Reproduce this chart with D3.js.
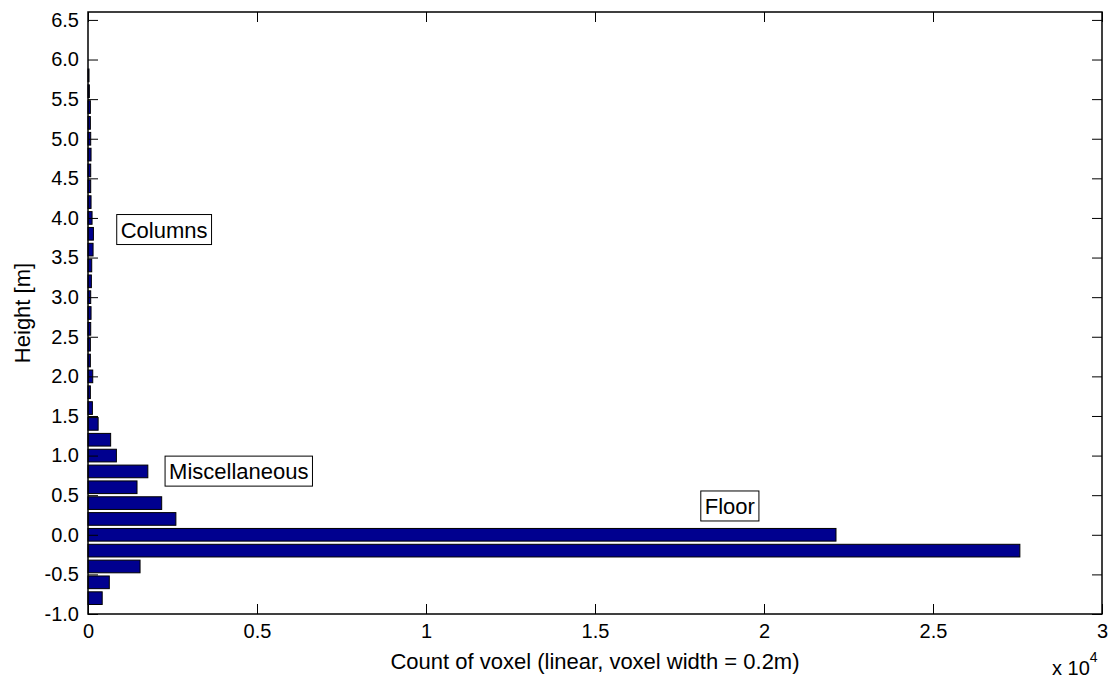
<!DOCTYPE html>
<html>
<head>
<meta charset="utf-8">
<script src="https://cdn.jsdelivr.net/npm/d3@7"></script>
<style>
  html, body { margin: 0; padding: 0; background: #fff; }
  svg { display: block; font-family: Arial, "Liberation Sans", sans-serif; }
</style>
</head>
<body>
<svg id="chart" width="1114" height="682"></svg>
<script>
// Height bins (bin centres, metres) and voxel counts per bin
const binCenters = [-0.8, -0.6, -0.4, -0.2, 0.0, 0.2, 0.4, 0.6, 0.8, 1.0,
                    1.2, 1.4, 1.6, 1.8, 2.0, 2.2, 2.4, 2.6, 2.8, 3.0,
                    3.2, 3.4, 3.6, 3.8, 4.0, 4.2, 4.4, 4.6, 4.8, 5.0,
                    5.2, 5.4, 5.6, 5.8];
const voxelCounts = [420, 630, 1540, 27570, 22130, 2600, 2180, 1450, 1770, 840,
                     670, 300, 130, 70, 140, 70, 70, 80, 90, 80,
                     100, 110, 150, 160, 120, 90, 80, 80, 90, 80,
                     70, 70, 40, 30];

// Axis ticks
const yTicks = [-1.0, -0.5, 0.0, 0.5, 1.0, 1.5, 2.0, 2.5, 3.0, 3.5, 4.0, 4.5, 5.0, 5.5, 6.0, 6.5];
const yTickLabels = ["-1.0", "-0.5", "0.0", "0.5", "1.0", "1.5", "2.0", "2.5",
                     "3.0", "3.5", "4.0", "4.5", "5.0", "5.5", "6.0", "6.5"];
const xTicks = [0, 5000, 10000, 15000, 20000, 25000, 30000];
const xTickLabels = ["0", "0.5", "1", "1.5", "2", "2.5", "3"];

// Annotations placed in data space (count, height)
const annotations = [
  { text: "Columns", x: 850, y: 3.85 },
  { text: "Miscellaneous", x: 2280, y: 0.80 },
  { text: "Floor", x: 18130, y: 0.36 }
];

const binWidth = 0.2;
const barFraction = 0.8;

const svg = d3.select("#chart");
const margin = { left: 88, right: 12, top: 12, bottom: 68 };
const W = 1114, H = 682;
const x0 = margin.left, x1 = W - margin.right;
const y0 = H - margin.bottom, y1 = margin.top;

const x = d3.scaleLinear().domain([0, 30000]).range([x0, x1]);
const y = d3.scaleLinear().domain([-1.0, 6.6]).range([y0, y1]);

// Bars
const barH = Math.abs(y(0) - y(binWidth * barFraction));
svg.append("g")
  .selectAll("rect")
  .data(binCenters.map((c, i) => ({ c, v: voxelCounts[i] })))
  .join("rect")
  .attr("x", x(0))
  .attr("y", d => y(d.c) - barH / 2)
  .attr("width", d => x(d.v) - x(0))
  .attr("height", barH)
  .attr("fill", "#00008f")
  .attr("stroke", "#000")
  .attr("stroke-width", 1);

// Axes (inward ticks on all four sides, MATLAB style)
const tickLen = 10;
const fontTick = "20px";
const fontLabel = "22px";

const gy = svg.append("g").attr("transform", `translate(${x0},0)`)
  .call(d3.axisLeft(y).tickValues(yTicks).tickFormat((d, i) => yTickLabels[i])
        .tickSizeInner(-tickLen).tickSizeOuter(0).tickPadding(9));
const gyr = svg.append("g").attr("transform", `translate(${x1},0)`)
  .call(d3.axisRight(y).tickValues(yTicks).tickFormat("")
        .tickSizeInner(-tickLen).tickSizeOuter(0));
const gx = svg.append("g").attr("transform", `translate(0,${y0})`)
  .call(d3.axisBottom(x).tickValues(xTicks).tickFormat((d, i) => xTickLabels[i])
        .tickSizeInner(-tickLen).tickSizeOuter(0).tickPadding(10));
const gxt = svg.append("g").attr("transform", `translate(0,${y1})`)
  .call(d3.axisTop(x).tickValues(xTicks).tickFormat("")
        .tickSizeInner(-tickLen).tickSizeOuter(0));

[gy, gyr, gx, gxt].forEach(g => {
  g.select(".domain").remove();
  g.selectAll("line").attr("stroke", "#000").attr("stroke-width", 1);
  g.selectAll("text").attr("fill", "#000").style("font-size", fontTick)
    .style("font-family", "Arial, 'Liberation Sans', sans-serif");
});
gx.selectAll("text").attr("dy", "0.71em");

// Plot frame
svg.append("rect")
  .attr("x", x0).attr("y", y1)
  .attr("width", x1 - x0).attr("height", y0 - y1)
  .attr("fill", "none").attr("stroke", "#000").attr("stroke-width", 1.5);

// Axis labels
svg.append("text")
  .attr("x", (x0 + x1) / 2).attr("y", 669)
  .attr("text-anchor", "middle")
  .style("font-size", fontLabel)
  .text("Count of voxel (linear, voxel width = 0.2m)");

svg.append("text")
  .attr("transform", `translate(30,${(y0 + y1) / 2}) rotate(-90)`)
  .attr("text-anchor", "middle")
  .style("font-size", fontLabel)
  .text("Height [m]");

// Exponent of x axis
const expo = svg.append("text").attr("x", 1052).attr("y", 675).style("font-size", fontTick);
expo.append("tspan").text("x 10");
expo.append("tspan").attr("dy", -13).style("font-size", "14px").text("4");

// Annotation boxes
const ann = svg.append("g").selectAll("g").data(annotations).join("g");
ann.each(function (d) {
  const g = d3.select(this);
  const t = g.append("text")
    .attr("x", x(d.x) + 4).attr("y", y(d.y))
    .attr("dy", "0.35em")
    .style("font-size", "22px")
    .attr("fill", "#000")
    .text(d.text);
  const bb = t.node().getBBox();
  g.insert("rect", "text")
    .attr("x", bb.x - 4).attr("y", bb.y - 3)
    .attr("width", bb.width + 8).attr("height", bb.height + 5)
    .attr("fill", "#fff").attr("stroke", "#000").attr("stroke-width", 1);
});
</script>
</body>
</html>
